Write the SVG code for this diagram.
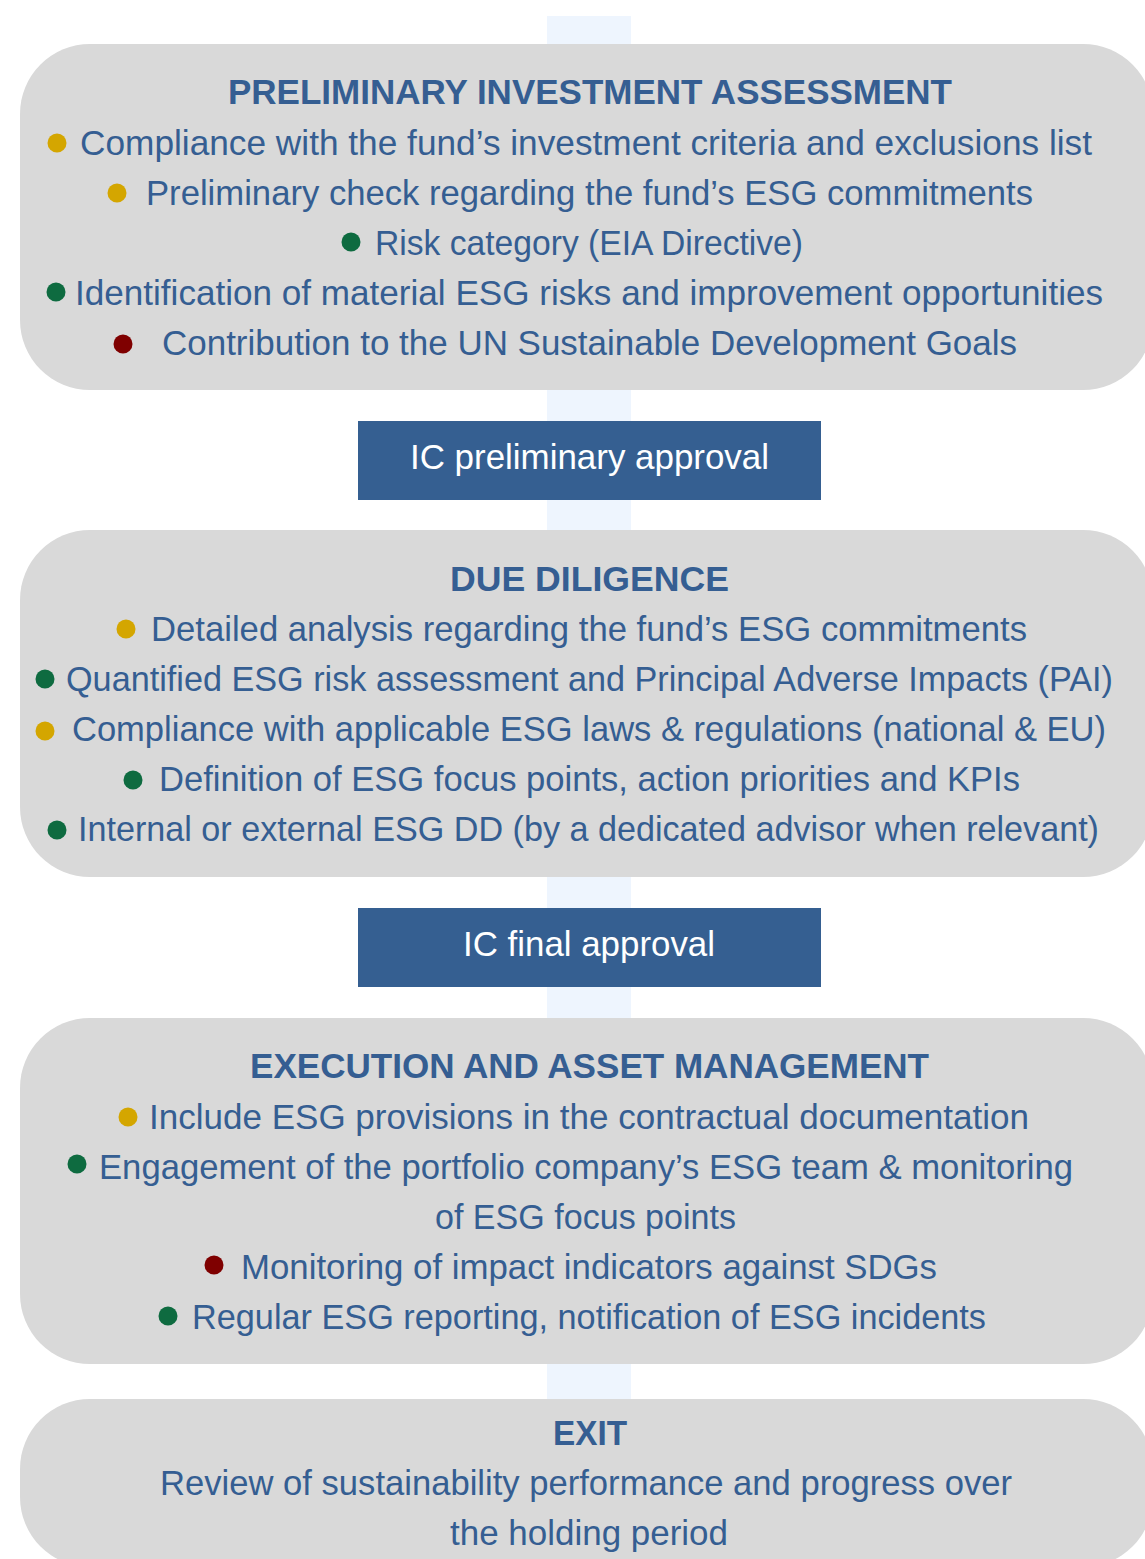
<svg xmlns="http://www.w3.org/2000/svg" width="1145" height="1559" viewBox="0 0 1145 1559">
<style>
.box{fill:#D9D9D9}
.ic{fill:#355F91}
.t{font-family:"Liberation Sans",Arial,sans-serif;font-size:35px;fill:#355E92}
.h{font-weight:bold;text-anchor:middle}
.m{text-anchor:middle}
.w{font-family:"Liberation Sans",Arial,sans-serif;font-size:35px;fill:#FFFFFF;text-anchor:middle}
.y{fill:#D4A600}
.g{fill:#0E6B40}
.r{fill:#7F0000}
</style>
<rect width="1145" height="1559" fill="#FFFFFF"/>
<g id="connectors">
<rect x="547" y="16" width="84" height="1400" fill="#EEF5FE"/>
</g>
<g id="preliminary">
<rect class="box" x="20" y="44" width="1133" height="346" rx="70" ry="70"/>
<text class="t h" x="590" y="104" textLength="724" lengthAdjust="spacingAndGlyphs">PRELIMINARY INVESTMENT ASSESSMENT</text>
<circle class="y" cx="57" cy="143" r="9.5"/>
<text class="t" x="80" y="155" textLength="1012" lengthAdjust="spacingAndGlyphs">Compliance with the fund’s investment criteria and exclusions list</text>
<circle class="y" cx="117" cy="193" r="9.5"/>
<text class="t" x="146" y="205" textLength="887" lengthAdjust="spacingAndGlyphs">Preliminary check regarding the fund’s ESG commitments</text>
<circle class="g" cx="351" cy="242" r="9.5"/>
<text class="t" x="375" y="255" textLength="428" lengthAdjust="spacingAndGlyphs">Risk category (EIA Directive)</text>
<circle class="g" cx="56" cy="292" r="9.5"/>
<text class="t" x="75" y="305" textLength="1028" lengthAdjust="spacingAndGlyphs">Identification of material ESG risks and improvement opportunities</text>
<circle class="r" cx="123" cy="344" r="9.5"/>
<text class="t" x="162" y="355" textLength="855" lengthAdjust="spacingAndGlyphs">Contribution to the UN Sustainable Development Goals</text>
</g>
<g id="ic-preliminary">
<rect class="ic" x="358" y="421" width="463" height="79"/>
<text class="w" x="589.5" y="469" textLength="359" lengthAdjust="spacingAndGlyphs">IC preliminary approval</text>
</g>
<g id="due-diligence">
<rect class="box" x="20" y="530" width="1133" height="347" rx="70" ry="70"/>
<text class="t h" x="589.5" y="591" textLength="279" lengthAdjust="spacingAndGlyphs">DUE DILIGENCE</text>
<circle class="y" cx="126" cy="629" r="9.5"/>
<text class="t" x="151" y="641" textLength="876" lengthAdjust="spacingAndGlyphs">Detailed analysis regarding the fund’s ESG commitments</text>
<circle class="g" cx="45" cy="679" r="9.5"/>
<text class="t" x="66" y="691" textLength="1047" lengthAdjust="spacingAndGlyphs">Quantified ESG risk assessment and Principal Adverse Impacts (PAI)</text>
<circle class="y" cx="45" cy="731" r="9.5"/>
<text class="t" x="72" y="741" textLength="1034" lengthAdjust="spacingAndGlyphs">Compliance with applicable ESG laws &amp; regulations (national &amp; EU)</text>
<circle class="g" cx="133" cy="780" r="9.5"/>
<text class="t" x="159" y="791" textLength="861" lengthAdjust="spacingAndGlyphs">Definition of ESG focus points, action priorities and KPIs</text>
<circle class="g" cx="57" cy="830" r="9.5"/>
<text class="t" x="78" y="841" textLength="1021" lengthAdjust="spacingAndGlyphs">Internal or external ESG DD (by a dedicated advisor when relevant)</text>
</g>
<g id="ic-final">
<rect class="ic" x="358" y="908" width="463" height="79"/>
<text class="w" x="589" y="956" textLength="252" lengthAdjust="spacingAndGlyphs">IC final approval</text>
</g>
<g id="execution">
<rect class="box" x="20" y="1018" width="1133" height="346" rx="70" ry="70"/>
<text class="t h" x="589.5" y="1078" textLength="679" lengthAdjust="spacingAndGlyphs">EXECUTION AND ASSET MANAGEMENT</text>
<circle class="y" cx="128" cy="1117" r="9.5"/>
<text class="t" x="149" y="1129" textLength="880" lengthAdjust="spacingAndGlyphs">Include ESG provisions in the contractual documentation</text>
<circle class="g" cx="77" cy="1164" r="9.5"/>
<text class="t" x="99" y="1179" textLength="974" lengthAdjust="spacingAndGlyphs">Engagement of the portfolio company’s ESG team &amp; monitoring</text>
<text class="t m" x="585.5" y="1229" textLength="301" lengthAdjust="spacingAndGlyphs">of ESG focus points</text>
<circle class="r" cx="214" cy="1265" r="9.5"/>
<text class="t" x="241" y="1279" textLength="696" lengthAdjust="spacingAndGlyphs">Monitoring of impact indicators against SDGs</text>
<circle class="g" cx="168" cy="1316" r="9.5"/>
<text class="t" x="192" y="1329" textLength="794" lengthAdjust="spacingAndGlyphs">Regular ESG reporting, notification of ESG incidents</text>
</g>
<g id="exit">
<rect class="box" x="20" y="1399" width="1133" height="168" rx="70" ry="70"/>
<text class="t h" x="590" y="1445" textLength="74" lengthAdjust="spacingAndGlyphs">EXIT</text>
<text class="t m" x="586" y="1495" textLength="852" lengthAdjust="spacingAndGlyphs">Review of sustainability performance and progress over</text>
<text class="t m" x="589" y="1545" textLength="278" lengthAdjust="spacingAndGlyphs">the holding period</text>
</g>
</svg>
